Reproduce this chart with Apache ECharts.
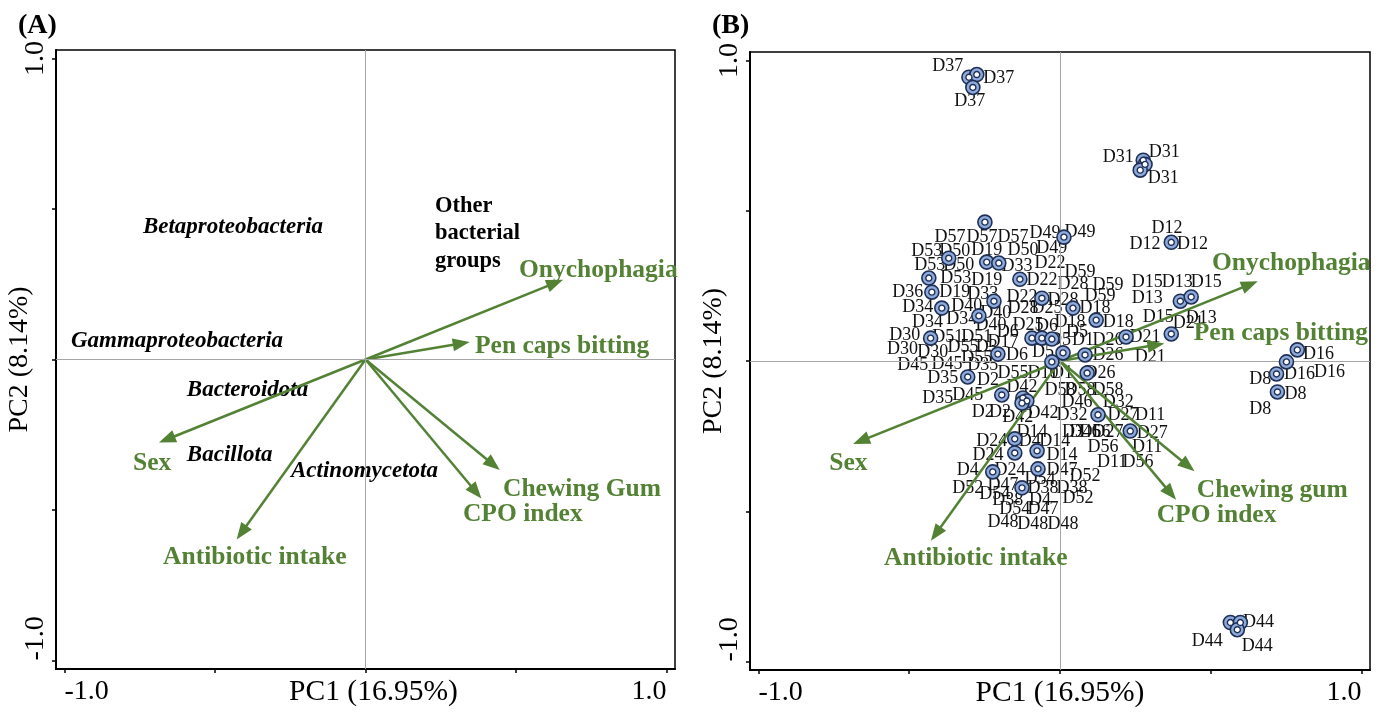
<!DOCTYPE html>
<html>
<head>
<meta charset="utf-8">
<script src="https://cdn.jsdelivr.net/npm/echarts@6/dist/echarts.min.js"></script>
<style>
  html, body { margin: 0; padding: 0; background: #fff; }
  #chart { width: 1387px; height: 715px; }
</style>
</head>
<body>
<div id="chart"></div>
<script>
// ---- Biplot data ----
// Explanatory variables and their loadings on PC1 / PC2
const variablesA = ['Onychophagia', 'Pen caps bitting', 'Sex', 'Antibiotic intake', 'Chewing Gum', 'CPO index'];
const variablesB = ['Onychophagia', 'Pen caps bitting', 'Sex', 'Antibiotic intake', 'Chewing gum', 'CPO index'];
const loadingPC1 = [0.656, 0.346, -0.686, -0.428, 0.446, 0.385];
const loadingPC2 = [0.265, 0.058, -0.276, -0.598, -0.367, -0.462];

// Bacterial groups (panel A)
const taxa = ['Betaproteobacteria', 'Gammaproteobacteria', 'Bacteroidota', 'Bacillota', 'Actinomycetota'];
const taxaPC1 = [-0.741, -0.980, -0.595, -0.595, -0.249];
const taxaPC2 = [0.439, 0.060, -0.103, -0.316, -0.372];
const otherGroupText = 'Other\nbacterial\ngroups';
const otherGroupPos = [0.229, 0.419];

// Sample scores (panel B): [sample, PC1, PC2]
const sampleScores = [
  ['D37', -0.302, 0.944], ['D37', -0.276, 0.953], ['D37', -0.289, 0.910],
  ['D31', 0.276, 0.668], ['D31', 0.282, 0.654], ['D31', 0.266, 0.635],
  ['D12', 0.369, 0.395],
  ['D44', 0.565, -0.870], ['D44', 0.598, -0.870], ['D44', 0.588, -0.894],
  ['D16', 0.787, 0.037], ['D16', 0.751, -0.003], ['D8', 0.718, -0.043], ['D8', 0.721, -0.103],
  ['D13', 0.399, 0.199], ['D15', 0.435, 0.213], ['D21', 0.369, 0.090], ['D59', 0.219, 0.080],
  ['D18', 0.120, 0.136], ['D28', 0.043, 0.176], ['D49', 0.013, 0.412], ['D57', -0.249, 0.462],
  ['D53', -0.369, 0.342], ['D19', -0.243, 0.329], ['D50', -0.203, 0.326], ['D53', -0.435, 0.276],
  ['D22', -0.133, 0.272], ['D36', -0.425, 0.229], ['D33', -0.219, 0.199], ['D22', -0.060, 0.209],
  ['D34', -0.392, 0.176], ['D40', -0.269, 0.150], ['D30', -0.429, 0.076], ['D6', -0.093, 0.076],
  ['D25', -0.060, 0.076], ['D5', -0.027, 0.073], ['D55', -0.206, 0.023], ['D1', 0.010, 0.027],
  ['D10', -0.027, -0.003], ['D26', 0.083, 0.020], ['D26', 0.090, -0.040], ['D35', -0.306, -0.053],
  ['D45', -0.193, -0.113], ['D42', -0.123, -0.123], ['D42', -0.110, -0.133], ['D42', -0.126, -0.140],
  ['D32', 0.126, -0.179], ['D27', 0.233, -0.233], ['D24', -0.150, -0.259], ['D14', -0.076, -0.299],
  ['D24', -0.150, -0.306], ['D4', -0.223, -0.369], ['D47', -0.073, -0.359], ['D38', -0.126, -0.422]
];

// Sample name annotations (panel B): [text, PC1, PC2]
const sampleLabels = [
  ['D37', -0.372, 0.980], ['D37', -0.203, 0.940], ['D37', -0.299, 0.864],
  ['D31', 0.193, 0.678], ['D31', 0.346, 0.694], ['D31', 0.342, 0.608],
  ['D12', 0.355, 0.442], ['D12', 0.282, 0.389], ['D12', 0.439, 0.389],
  ['D44', 0.658, -0.870], ['D44', 0.488, -0.934], ['D44', 0.654, -0.950],
  ['D16', 0.857, 0.023], ['D16', 0.794, -0.043], ['D16', 0.894, -0.037],
  ['D8', 0.664, -0.060], ['D8', 0.781, -0.110], ['D8', 0.664, -0.159],
  ['D15', 0.289, 0.262], ['D15', 0.485, 0.262], ['D15', 0.326, 0.146],
  ['D13', 0.389, 0.262], ['D13', 0.289, 0.209], ['D13', 0.468, 0.143],
  ['D21', 0.282, 0.080], ['D21', 0.425, 0.126], ['D21', 0.299, 0.013],
  ['D59', 0.066, 0.296], ['D59', 0.159, 0.252], ['D59', 0.133, 0.216],
  ['D28', 0.043, 0.256], ['D28', 0.010, 0.203], ['D28', -0.123, 0.176],
  ['D22', -0.033, 0.326], ['D22', -0.060, 0.269], ['D22', -0.126, 0.213],
  ['D18', 0.116, 0.176], ['D18', 0.033, 0.130], ['D18', 0.193, 0.130],
  ['D49', -0.050, 0.425], ['D49', 0.066, 0.429], ['D49', -0.027, 0.375],
  ['D57', -0.365, 0.412], ['D57', -0.259, 0.412], ['D57', -0.156, 0.412],
  ['D50', -0.349, 0.365], ['D50', -0.123, 0.369], ['D50', -0.336, 0.319],
  ['D53', -0.442, 0.365], ['D53', -0.432, 0.319], ['D53', -0.346, 0.276],
  ['D19', -0.243, 0.369], ['D19', -0.243, 0.269], ['D19', -0.349, 0.229],
  ['D33', -0.143, 0.316], ['D33', -0.256, 0.223], ['D36', -0.505, 0.229],
  ['D34', -0.472, 0.179], ['D34', -0.439, 0.130], ['D34', -0.326, 0.140],
  ['D40', -0.309, 0.183], ['D40', -0.213, 0.159], ['D40', -0.229, 0.120],
  ['D25', -0.043, 0.176], ['D25', -0.106, 0.120],
  ['D6', -0.043, 0.116], ['D6', -0.143, 0.020], ['D6', -0.173, 0.096],
  ['D5', 0.056, 0.096], ['D5', 0.000, 0.070], ['D5', -0.056, 0.030],
  ['D1', 0.076, 0.070], ['D1', 0.007, -0.040],
  ['D26', 0.159, 0.070], ['D26', 0.159, 0.020], ['D26', 0.133, -0.040],
  ['D30', -0.515, 0.086], ['D30', -0.522, 0.040], ['D30', -0.422, 0.030],
  ['D51', -0.372, 0.080], ['D51', -0.276, 0.080], ['D17', -0.189, 0.063],
  ['D55', -0.322, 0.047], ['D55', -0.276, 0.010], ['D55', -0.156, -0.040], ['D3', -0.243, 0.047],
  ['D45', -0.488, -0.013], ['D45', -0.375, -0.010], ['D45', -0.306, -0.113],
  ['D35', -0.256, -0.013], ['D35', -0.389, -0.056], ['D35', -0.405, -0.123],
  ['D2', -0.239, -0.063], ['D2', -0.256, -0.169], ['D2', -0.199, -0.169], ['D10', -0.056, -0.040],
  ['D42', -0.126, -0.086], ['D42', -0.140, -0.186], ['D42', -0.056, -0.173],
  ['D58', 0.000, -0.096], ['D58', 0.066, -0.096], ['D58', 0.159, -0.096],
  ['D46', 0.056, -0.136], ['D46', 0.083, -0.236], ['D32', 0.193, -0.136], ['D32', 0.040, -0.179],
  ['D27', 0.209, -0.179], ['D27', 0.159, -0.236], ['D27', 0.306, -0.239],
  ['D11', 0.299, -0.179], ['D11', 0.289, -0.286], ['D11', 0.173, -0.336], ['D3', 0.043, -0.236],
  ['D56', 0.116, -0.236], ['D56', 0.143, -0.286], ['D56', 0.259, -0.336],
  ['D14', -0.093, -0.236], ['D14', -0.017, -0.266], ['D14', 0.007, -0.312],
  ['D24', -0.226, -0.266], ['D24', -0.239, -0.312], ['D24', -0.166, -0.365],
  ['D4', -0.100, -0.266], ['D4', -0.306, -0.365], ['D4', -0.066, -0.462],
  ['D47', 0.007, -0.365], ['D47', -0.189, -0.412], ['D47', -0.056, -0.492],
  ['D52', 0.083, -0.385], ['D52', -0.306, -0.422], ['D52', 0.060, -0.458],
  ['D54', -0.066, -0.395], ['D54', -0.216, -0.445], ['D54', -0.150, -0.492],
  ['D38', -0.056, -0.425], ['D38', 0.040, -0.425], ['D38', -0.173, -0.462],
  ['D48', -0.189, -0.538], ['D48', -0.090, -0.542], ['D48', 0.010, -0.542]
];

// Axis ticks
const tickValues = [-1, -0.5, 0, 0.5, 1];
const tickLabelValues = [-1, 1];
const axisNameX = 'PC1 (16.95%)';
const axisNameY = 'PC2 (8.14%)';

// ---- Layout (label anchors for the variable names, in axis units) ----
const varLabelPosA = [[0.508, 0.296], [0.362, 0.043], [-0.774, -0.346], [-0.674, -0.658], [0.455, -0.432], [0.322, -0.515]];
const varLabelPosB = [[0.502, 0.326], [0.442, 0.093], [-0.767, -0.342], [-0.585, -0.658], [0.452, -0.432], [0.319, -0.515]];

// ---- Styles ----
const SERIF = "'Liberation Serif', 'Times New Roman', serif";
const GREEN = '#548235';
const RANGE = 1.028;

function xAxisFor(gridIndex, namePadLeft) {
  return {
    type: 'value', gridIndex, min: -RANGE, max: RANGE,
    name: axisNameX, nameLocation: 'middle', nameGap: 8, nameMoveOverlap: false,
    nameTextStyle: { fontFamily: SERIF, fontSize: 29.5, color: '#000', padding: [0, 0, 0, namePadLeft] },
    axisLine: { onZero: false, lineStyle: { color: '#000', width: 2 } },
    axisTick: { customValues: tickValues, length: 4, lineStyle: { color: '#000', width: 1.5 } },
    axisLabel: {
      customValues: tickLabelValues, margin: 9,
      formatter: v => v.toFixed(1),
      fontFamily: SERIF, fontSize: 28, color: '#000',
      alignMinLabel: 'left', alignMaxLabel: 'right'
    },
    splitLine: { show: false }
  };
}

function yAxisFor(gridIndex) {
  return {
    type: 'value', gridIndex, min: -RANGE, max: RANGE,
    name: axisNameY, nameLocation: 'middle', nameGap: 22, nameRotate: 90, nameMoveOverlap: false,
    nameTextStyle: { fontFamily: SERIF, fontSize: 28, color: '#000' },
    axisLine: { onZero: false, lineStyle: { color: '#000', width: 2 } },
    axisTick: { customValues: tickValues, length: 4, lineStyle: { color: '#000', width: 1.5 } },
    axisLabel: {
      customValues: tickLabelValues, margin: 6, rotate: 90,
      formatter: v => v.toFixed(1),
      fontFamily: SERIF, fontSize: 28, color: '#000',
      alignMinLabel: 'left'
    },
    splitLine: { show: false }
  };
}

// Zero reference lines through the origin
const zeroLines = {
  silent: true, symbol: ['none', 'none'], animation: false,
  label: { show: false },
  lineStyle: { color: '#a6a6a6', type: 'solid', width: 1, opacity: 1 },
  data: [{ xAxis: 0 }, { yAxis: 0 }]
};

// Loading vector drawn as a line with a filled triangular head
function renderArrow(params, api) {
  const o = api.coord([0, 0]);
  const t = api.coord([api.value(0), api.value(1)]);
  const dx = t[0] - o[0], dy = t[1] - o[1];
  const len = Math.hypot(dx, dy);
  const ux = dx / len, uy = dy / len;
  const hl = 17, hw = 6.5;
  const bx = t[0] - ux * hl, by = t[1] - uy * hl;
  return {
    type: 'group',
    children: [
      { type: 'line', shape: { x1: o[0], y1: o[1], x2: bx + ux * 2, y2: by + uy * 2 },
        style: { stroke: GREEN, lineWidth: 2.5 } },
      { type: 'polygon', shape: { points: [[t[0], t[1]], [bx - uy * hw, by + ux * hw], [bx + uy * hw, by - ux * hw]] },
        style: { fill: GREEN } }
    ]
  };
}

function arrowSeries(idx) {
  return {
    type: 'custom', xAxisIndex: idx, yAxisIndex: idx, clip: false, z: 3,
    renderItem: renderArrow,
    data: loadingPC1.map((x, i) => [x, loadingPC2[i]])
  };
}

function textSeries(idx, items, style, align, z) {
  return {
    type: 'scatter', xAxisIndex: idx, yAxisIndex: idx, z: z || 2,
    symbol: 'circle', symbolSize: 1, itemStyle: { color: 'rgba(0,0,0,0)', opacity: 1 },
    silent: true,
    label: Object.assign({
      show: true,
      position: align === 'left' ? 'right' : 'inside',
      distance: 0,
      align: align, verticalAlign: 'middle',
      textBorderWidth: 0,
      formatter: p => p.name
    }, style),
    labelLayout: { hideOverlap: false },
    data: items
  };
}

const varStyle = { fontFamily: SERIF, fontSize: 25.5, fontWeight: 'bold', color: GREEN };
const taxaStyle = { fontFamily: SERIF, fontSize: 23, fontWeight: 'bold', fontStyle: 'italic', color: '#000' };
const otherStyle = { fontFamily: SERIF, fontSize: 22.5, fontWeight: 'bold', color: '#000', lineHeight: 27.5 };
const sampleStyle = { fontFamily: SERIF, fontSize: 18, color: '#111' };

const taxaSeries = textSeries(0, taxa.map((n, i) => ({ name: n, value: [taxaPC1[i], taxaPC2[i]] })), taxaStyle, 'left', 2);
taxaSeries.markLine = zeroLines;

const otherSeries = textSeries(0, [{ name: otherGroupText, value: otherGroupPos }], otherStyle, 'left', 2);

const sampleLabelSeries = textSeries(1, sampleLabels.map(d => ({ name: d[0], value: [d[1], d[2]] })), sampleStyle, 'center', 1);
sampleLabelSeries.markLine = zeroLines;

const pointData = sampleScores.map(d => ({ name: d[0], value: [d[1], d[2]] }));

const gridBase = {
  show: true, borderColor: '#000', borderWidth: 1.5, backgroundColor: 'transparent',
  containLabel: false, outerBoundsMode: 'none'
};

const option = {
  animation: false,
  backgroundColor: '#fff',
  title: [
    { text: '(A)', left: 13, top: 7, textStyle: { fontFamily: SERIF, fontSize: 28, fontWeight: 'bold', color: '#000' } },
    { text: '(B)', left: 707, top: 7, textStyle: { fontFamily: SERIF, fontSize: 28, fontWeight: 'bold', color: '#000' } }
  ],
  grid: [
    Object.assign({ left: 56, top: 50, width: 619, height: 619 }, gridBase),
    Object.assign({ left: 750, top: 52, width: 620, height: 618 }, gridBase)
  ],
  xAxis: [xAxisFor(0, 16), xAxisFor(1, 0)],
  yAxis: [yAxisFor(0), yAxisFor(1)],
  series: [
    taxaSeries,
    otherSeries,
    arrowSeries(0),
    textSeries(0, variablesA.map((n, i) => ({ name: n, value: varLabelPosA[i] })), varStyle, 'left', 4),
    sampleLabelSeries,
    arrowSeries(1),
    {
      type: 'scatter', xAxisIndex: 1, yAxisIndex: 1, z: 5, silent: true,
      symbol: 'circle', symbolSize: 14,
      itemStyle: { color: '#8eaadb', borderColor: '#1f2f55', borderWidth: 1.6, opacity: 1 },
      data: pointData
    },
    {
      type: 'scatter', xAxisIndex: 1, yAxisIndex: 1, z: 6, silent: true,
      symbol: 'circle', symbolSize: 6,
      itemStyle: { color: '#ffffff', borderColor: '#1f2f55', borderWidth: 1.4, opacity: 1 },
      data: pointData
    },
    textSeries(1, variablesB.map((n, i) => ({ name: n, value: varLabelPosB[i] })), varStyle, 'left', 7)
  ]
};

const chart = echarts.init(document.getElementById('chart'), null, { renderer: 'canvas' });
chart.setOption(option);
</script>
</body>
</html>
